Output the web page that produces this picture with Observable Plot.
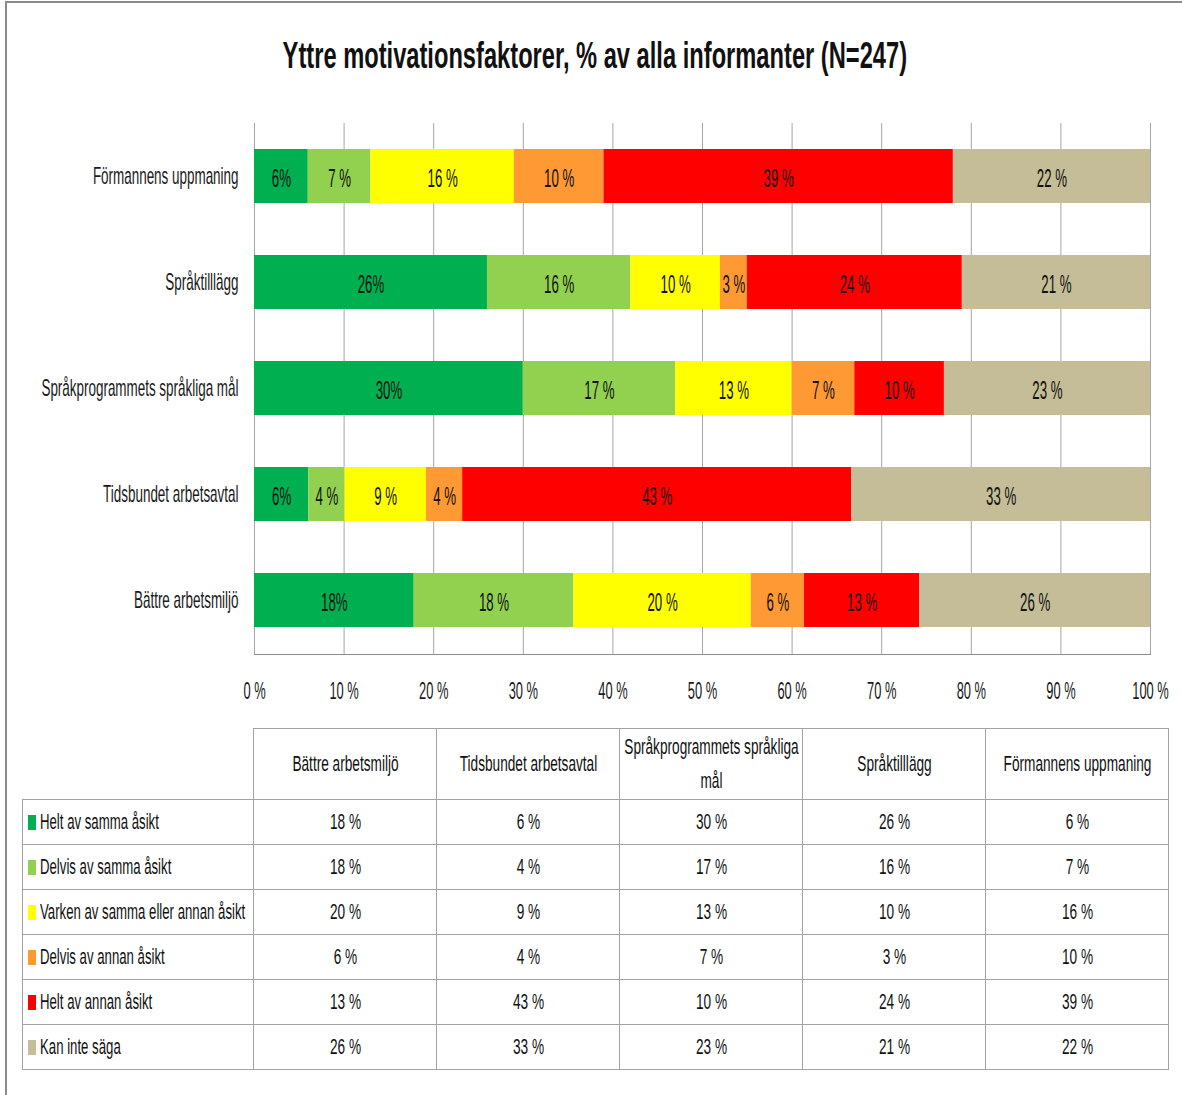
<!DOCTYPE html>
<html><head><meta charset="utf-8">
<script src="https://cdn.jsdelivr.net/npm/d3@7"></script>
<script src="https://cdn.jsdelivr.net/npm/@observablehq/plot@0.6"></script>
<style>
body{margin:0;background:#fff;}
#wrap{position:relative;width:1182px;height:1095px;overflow:hidden;font-family:"Liberation Sans",Arial,sans-serif;color:#111;background:#fff;}
#border{position:absolute;left:5px;top:1px;width:1200px;height:1200px;border-left:2px solid #8a8a8a;border-top:2px solid #8a8a8a;}
#title{position:absolute;left:4px;top:37px;width:1182px;text-align:center;font-weight:bold;font-size:37px;line-height:37px;}
#title span{display:inline-block;transform:scaleX(0.64);white-space:nowrap;}
#chart{position:absolute;left:0;top:100px;}
#tbl{position:absolute;left:22px;top:728px;width:1146px;border-collapse:collapse;table-layout:fixed;font-size:22px;line-height:26px;}
#tbl td{border:1px solid #a3a3a3;padding:0;text-align:center;vertical-align:middle;overflow:visible;white-space:normal;}
#tbl td.corner{border-top:none;border-left:none;}
#tbl .c{position:relative;left:50%;width:295px;margin-left:-147.5px;transform:scaleX(0.62);transform-origin:center;}
#tbl .h{line-height:34px;}
#tbl td.rl{text-align:left;white-space:nowrap;}
#tbl .sw{display:inline-block;width:8px;height:15px;margin-left:5px;margin-right:4px;vertical-align:-1px;}
#tbl .lab{display:inline-block;transform:scaleX(0.6);transform-origin:left center;}
</style>
</head><body>
<div id="wrap">
  <div id="border"></div>
  <div id="title"><span id="titleText"></span></div>
  <div id="chart"></div>
  <table id="tbl"></table>
</div>
<script>
// ---- data ----
const title = "Yttre motivationsfaktorer, % av alla informanter (N=247)";
// bar order, top to bottom
const categories = ["Förmannens uppmaning", "Språktilllägg", "Språkprogrammets språkliga mål", "Tidsbundet arbetsavtal", "Bättre arbetsmiljö"];
// table column order
const tableColumns = ["Bättre arbetsmiljö", "Tidsbundet arbetsavtal", "Språkprogrammets språkliga mål", "Språktilllägg", "Förmannens uppmaning"];
const series = ["Helt av samma åsikt", "Delvis av samma åsikt", "Varken av samma eller annan åsikt", "Delvis av annan åsikt", "Helt av annan åsikt", "Kan inte säga"];
const colors = ["#00B050", "#92D050", "#FFFF00", "#FF9933", "#FF0000", "#C4BD97"];
// values (%) in tableColumns order
const heltSamma   = [18, 6, 30, 26, 6];
const delvisSamma = [18, 4, 17, 16, 7];
const varken      = [20, 9, 13, 10, 16];
const delvisAnnan = [6, 4, 7, 3, 10];
const heltAnnan   = [13, 43, 10, 24, 39];
const kanInte     = [26, 33, 23, 21, 22];
const seriesValues = [heltSamma, delvisSamma, varken, delvisAnnan, heltAnnan, kanInte];
// bar label separator between number and % (first series shows no space)
const labelSep = ["", " ", " ", " ", " ", " "];
const xTicks = [0, 0.1, 0.2, 0.3, 0.4, 0.5, 0.6, 0.7, 0.8, 0.9, 1];
const xTickLabels = ["0 %", "10 %", "20 %", "30 %", "40 %", "50 %", "60 %", "70 %", "80 %", "90 %", "100 %"];

document.getElementById("titleText").textContent = title;

// ---- tidy rows ----
const rows = [];
series.forEach((s, si) => tableColumns.forEach((c, ci) => rows.push({category: c, series: s, value: seriesValues[si][ci], label: seriesValues[si][ci] + labelSep[si] + "%"})));

const chart = Plot.plot({
  width: 1182, height: 620,
  marginTop: 23, marginBottom: 66, marginLeft: 254, marginRight: 32,
  style: {fontFamily: '"Liberation Sans",Arial,sans-serif', fontSize: "23px", color: "#1a1a1a", background: "transparent"},
  x: {domain: [0, 1]},
  y: {domain: categories, paddingInner: 0.49, paddingOuter: 0.245},
  color: {domain: series, range: colors},
  marks: [
    Plot.gridX(xTicks, {stroke: "#a6a6a6", strokeOpacity: 1}),
    Plot.barX(rows, Plot.stackX({x: "value", y: "category", fill: "series", offset: "normalize"})),
    Plot.text(rows, Plot.stackX({x: "value", y: "category", z: "series", text: "label", offset: "normalize", fill: "#111", fontSize: 25, dy: 2, className: "barlab"})),
    Plot.axisX(xTicks, {tickSize: 0, tickPadding: 28, tickFormat: d => xTickLabels[xTicks.indexOf(d)], label: null, className: "xlab"}),
    Plot.axisY({tickSize: 0, tickPadding: 16, label: null, fontSize: 24, className: "ylab"}),
    Plot.frame({anchor: "bottom", stroke: "#8c8c8c"})
  ]
});
// horizontal condensing of the text (reference uses a narrow face)
const scales = {barlab: 0.53, xlab: 0.56, ylab: 0.56};
Object.entries(scales).forEach(([cls, s]) => {
  chart.querySelectorAll(`g.${cls} text, g[aria-label] .${cls} text, .${cls} text`).forEach(t => {
    if (t.dataset.scaled) return;
    t.dataset.scaled = "1";
    const tr = t.getAttribute("transform") || "";
    t.setAttribute("transform", tr + ` scale(${s},1)`);
  });
});
// fallback for any text not yet condensed
chart.querySelectorAll("text").forEach(t => {
  if (t.dataset.scaled) return;
  t.dataset.scaled = "1";
  const tr = t.getAttribute("transform") || "";
  t.setAttribute("transform", tr + " scale(0.56,1)");
});
document.getElementById("chart").appendChild(chart);

// ---- data table ----
const tbl = document.getElementById("tbl");
const colW = [231, 183, 183, 183, 183, 183];
let html = "<colgroup>" + colW.map(w => `<col style="width:${w}px">`).join("") + "</colgroup>";
html += `<tr style="height:71px"><td class="corner"></td>` + tableColumns.map(c => `<td><div class="c h">${c}</div></td>`).join("") + "</tr>";
series.forEach((s, si) => {
  html += `<tr style="height:45px"><td class="rl"><span class="sw" style="background:${colors[si]}"></span><span class="lab">${s}</span></td>` +
    seriesValues[si].map(v => `<td><div class="c">${v} %</div></td>`).join("") + "</tr>";
});
tbl.innerHTML = html;
</script>
</body></html>
